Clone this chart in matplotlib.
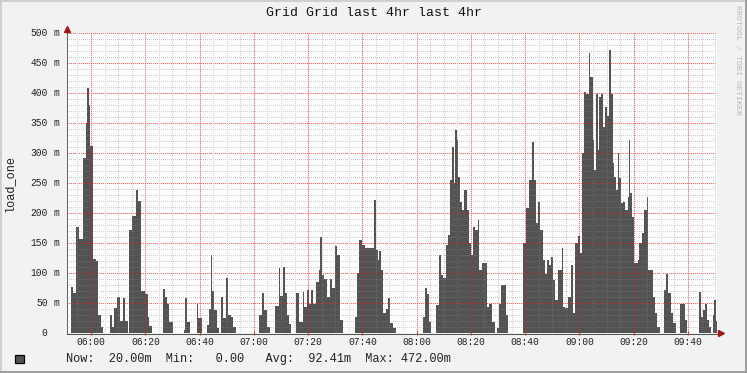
import matplotlib
matplotlib.use("Agg")
import numpy as np
import matplotlib.pyplot as plt
import matplotlib.transforms as mtrans
from matplotlib.patches import Rectangle
from matplotlib.lines import Line2D

# ---------------- data (times in minutes after midnight, values in milli-load) -------------
window_start = 351.16
window_end = 590.69

step_times = [
    351.16,
    352.63, 353.48, 354.48, 355.69, 356.95, 358.16, 358.64, 359.27, 359.64, 360.63, 361.85, 362.69, 363.58, 364.32,
    367.01, 367.74, 368.59, 369.70, 370.69, 371.69, 372.53, 373.75,
    374.12, 375.11, 376.77, 377.32, 378.43, 379.79, 381.12, 381.56, 382.48,
    386.43, 387.16, 388.01, 388.86, 390.33,
    394.28, 394.76, 395.27, 396.49,
    398.96, 399.44, 400.91,
    402.75, 403.60, 404.23, 404.59, 405.44, 406.33, 407.06,
    407.91, 408.54, 409.75, 410.49, 411.60, 412.33, 413.44,
    422.02, 422.91, 423.87, 424.75, 425.97,
    427.92, 429.17, 429.76, 430.76, 431.50, 432.34, 432.97, 433.71,
    435.55, 436.65, 438.02, 438.61, 439.49, 440.45, 441.08, 441.70, 442.92, 443.91, 444.39, 445.13,
    445.98, 446.97, 448.08, 448.82, 449.92, 450.66, 451.76, 452.76,
    457.40, 458.14, 458.77, 459.87, 461.09, 464.40, 464.92, 465.66, 466.25, 466.87, 467.50, 468.72,
    469.34, 470.19, 471.18, 472.40,
    482.46, 483.20, 483.82, 484.45, 485.41,
    487.14, 488.36, 488.98, 489.83, 490.83, 491.45, 492.30, 493.04, 493.77, 494.25, 494.77, 495.14,
    495.99, 496.72, 497.57, 498.45, 499.19, 500.04, 500.89, 501.62, 502.51, 503.10, 504.09, 505.82,
    506.78, 507.78, 508.77,
    509.51, 510.25, 511.09, 512.94, 513.67,
    519.09, 520.31, 521.52, 522.52, 523.14, 523.99, 524.62, 525.47, 526.46, 527.42, 528.16, 528.78,
    529.52, 530.15, 530.99, 531.99, 533.57, 534.05, 534.79, 535.78, 536.89, 537.52, 538.47, 539.36,
    540.21, 540.94, 541.79, 542.42, 543.41, 544.00, 544.89, 545.48, 546.10, 546.73, 547.32, 547.95,
    548.79, 549.42, 550.05, 550.78, 551.63, 552.26, 552.85, 553.47, 554.10, 554.69, 555.32, 555.94,
    556.90, 557.78, 558.15, 558.74, 559.37, 560.22, 561.47, 562.06, 563.05, 563.90, 564.79, 565.38,
    567.22, 567.96, 568.69, 569.69,
    571.27, 571.90, 572.53, 573.74, 574.59, 575.58,
    577.06, 579.01, 579.64,
    583.95, 584.80, 585.64, 586.38, 586.90, 587.63, 588.48,
    589.11, 589.59, 590.21,
]

step_values = [
    0,
    77, 66, 177, 157, 291, 350, 408, 380, 311, 123, 120, 30, 10, 0,
    30, 10, 41, 60, 20, 58, 20, 0,
    172, 195, 238, 220, 70, 65, 27, 12, 0,
    73, 60, 48, 18, 0,
    5, 58, 18, 0,
    49, 25, 0,
    13, 40, 130, 70, 38, 8, 0,
    60, 25, 91, 30, 27, 10, 0,
    30, 67, 38, 10, 0,
    45, 108, 62, 110, 66, 30, 15, 0,
    67, 19, 69, 44, 72, 49, 72, 49, 85, 105, 160, 97,
    90, 60, 90, 75, 145, 130, 22, 0,
    27, 100, 155, 147, 141, 222, 138, 122, 136, 105, 33, 40,
    58, 16, 8, 0,
    27, 75, 65, 19, 0,
    47, 130, 97, 91, 147, 163, 255, 310, 250, 338, 322, 260,
    219, 205, 238, 205, 150, 130, 177, 172, 188, 105, 116, 44,
    49, 19, 0,
    8, 49, 80, 30, 0,
    150, 208, 255, 319, 255, 183, 219, 172, 122, 99, 122, 113,
    127, 88, 55, 105, 141, 44, 41, 60, 113, 33, 150, 161,
    133, 300, 402, 399, 466, 427, 322, 272, 399, 305, 394, 399,
    344, 377, 361, 472, 399, 283, 260, 238, 300, 258, 216, 219,
    205, 227, 322, 233, 194, 116, 122, 150, 166, 205, 227, 105,
    60, 33, 10, 0,
    72, 99, 66, 33, 16, 0,
    49, 22, 0,
    69, 27, 38, 49, 22, 10, 0,
    30, 55, 20,
]

title_text = "Grid Grid last 4hr last 4hr"
y_label_text = "load_one"
watermark_text = "RRDTOOL / TOBI OETIKER"
y_major_ticks = [0, 50, 100, 150, 200, 250, 300, 350, 400, 450, 500]
y_major_labels = ["0", "50", "100", "150", "200", "250", "300", "350", "400", "450", "500"]
y_major_units = ["", "m", "m", "m", "m", "m", "m", "m", "m", "m", "m"]
x_major_ticks = [360, 380, 400, 420, 440, 460, 480, 500, 520, 540, 560, 580]
x_major_labels = ["06:00", "06:20", "06:40", "07:00", "07:20", "07:40",
                  "08:00", "08:20", "08:40", "09:00", "09:20", "09:40"]
legend_line = "Now:  20.00m  Min:   0.00   Avg:  92.41m  Max: 472.00m"

# ---------------- styling ----------------
W, H = 747, 373
DPI = 100
AX_W, AX_H = 650, 300
Y_MAX = 500
MONO = ["Liberation Mono", "DejaVu Sans Mono"]
AREA = "#535353"
TXT = "#222222"

fig = plt.figure(figsize=(W / DPI, H / DPI), dpi=DPI, facecolor="#f2f2f2")


def px(dx, dy):
    return mtrans.ScaledTranslation(dx / DPI, -dy / DPI, fig.dpi_scale_trans)


# image borders (shade)
fig.add_artist(Rectangle((0, 1 - 2 / H), 1, 2 / H, transform=fig.transFigure, color="#cfcfcf", lw=0))
fig.add_artist(Rectangle((0, 0), 2 / W, 1, transform=fig.transFigure, color="#cfcfcf", lw=0))
fig.add_artist(Rectangle((0, 0), 1, 2 / H, transform=fig.transFigure, color="#9e9e9e", lw=0))
fig.add_artist(Rectangle((1 - 2 / W, 0), 2 / W, 1, transform=fig.transFigure, color="#9e9e9e", lw=0))

ax = fig.add_axes([67 / W, 40 / H, AX_W / W, AX_H / H])
ax.set_facecolor("white")
for s in ax.spines.values():
    s.set_visible(False)

ax.stairs(step_values, step_times + [window_end], fill=True, color=AREA, lw=0, zorder=2)

# dotted grid (1px on / 1px off) drawn over the area as a pixel-exact overlay
grid = np.zeros((AX_H, AX_W, 4))
minor_on = (0.55, 0.55, 0.55, 0.42)
minor_off = (0.55, 0.55, 0.55, 0.0)
major_on = (0.85, 0.1, 0.1, 0.6)
major_off = (1.0, 0.2, 0.2, 0.18)
cols = np.arange(AX_W)
rows = np.arange(AX_H)
for v in range(10, Y_MAX + 1, 10):
    r = int(round((Y_MAX - v) / Y_MAX * AX_H))
    if 0 <= r < AX_H:
        on, off = (major_on, major_off) if v % 50 == 0 else (minor_on, minor_off)
        grid[r, cols % 2 == 1] = off
        grid[r, cols % 2 == 0] = on
t = 355
while t < window_end:
    c = int(round((t - window_start) / (window_end - window_start) * AX_W))
    if 0 <= c < AX_W:
        on, off = (major_on, major_off) if t % 20 == 0 else (minor_on, minor_off)
        grid[rows % 2 == 1, c] = np.maximum(grid[rows % 2 == 1, c], off)
        grid[rows % 2 == 0, c] = on
    t += 5
ax.imshow(grid, extent=(window_start, window_end, 0, Y_MAX), origin="upper",
          interpolation="nearest", aspect="auto", zorder=3)

ax.set_xlim(window_start, window_end)
ax.set_ylim(0, Y_MAX)
ax.set_xticks([])
ax.set_yticks([])

# axis lines with arrows
xa = ax.get_xaxis_transform()
ya = ax.get_yaxis_transform()
ax.add_line(Line2D([0, 1], [0, 0], transform=ax.transAxes + px(0, 0.5), color="#555555", lw=0.75,
                   clip_on=False, zorder=5, snap=True))
ax.add_line(Line2D([0, 0], [0, 1], transform=ax.transAxes + px(-0.5, 0), color="#666666", lw=0.75,
                   clip_on=False, zorder=5, snap=True))
ax.add_line(Line2D([1], [0], transform=ax.transAxes + px(4, 0), marker=">", ms=5,
                   color="#a01818", mec="#a01818", lw=0, clip_on=False, zorder=6))
ax.add_line(Line2D([0], [1], transform=ax.transAxes + px(0, -4), marker="^", ms=5,
                   color="#a01818", mec="#a01818", lw=0, clip_on=False, zorder=6))

# small ticks on the time axis
for tm in x_major_ticks:
    ax.add_line(Line2D([tm], [0], transform=xa, color="#c04040", lw=0, clip_on=False,
                       marker="|", ms=3, mew=0.8, zorder=6))

# x tick labels
for tm, lab in zip(x_major_ticks, x_major_labels):
    ax.text(tm, 0, lab, transform=xa + px(0, 9), ha="center", va="center",
            fontsize=6.9, family=MONO, color=TXT)

# y tick labels
for v, lab, unit in zip(y_major_ticks, y_major_labels, y_major_units):
    ax.text(0, v, lab, transform=ya + px(-19.5, 0), ha="right", va="center",
            fontsize=6.9, family=MONO, color=TXT)
    if unit:
        ax.text(0, v, unit, transform=ya + px(-13.5, 0), ha="left", va="center",
                fontsize=6.9, family=MONO, color=TXT)

# title, axis label, watermark
fig.text(0.5, 1 - 13 / H, title_text, ha="center", va="center", fontsize=9.5, family=MONO, color="#111111")
fig.text(10 / W, 1 - 183 / H, y_label_text, rotation=90, ha="center", va="center",
         fontsize=8.6, family=MONO, color=TXT)
fig.text(738 / W, 1 - 60 / H, watermark_text, rotation=270, ha="center", va="center",
         fontsize=6, family=MONO, color="#b8b8b8")

# legend
fig.add_artist(Rectangle((15 / W, 1 - 363 / H), 8.5 / W, 8.5 / H, transform=fig.transFigure,
                         facecolor=AREA, edgecolor="black", lw=0.9))
fig.text(66.5 / W, 1 - 359 / H, legend_line, ha="left", va="center", fontsize=8.6,
         family=MONO, color=TXT)

fig.savefig("out.png", dpi=DPI, facecolor=fig.get_facecolor())
